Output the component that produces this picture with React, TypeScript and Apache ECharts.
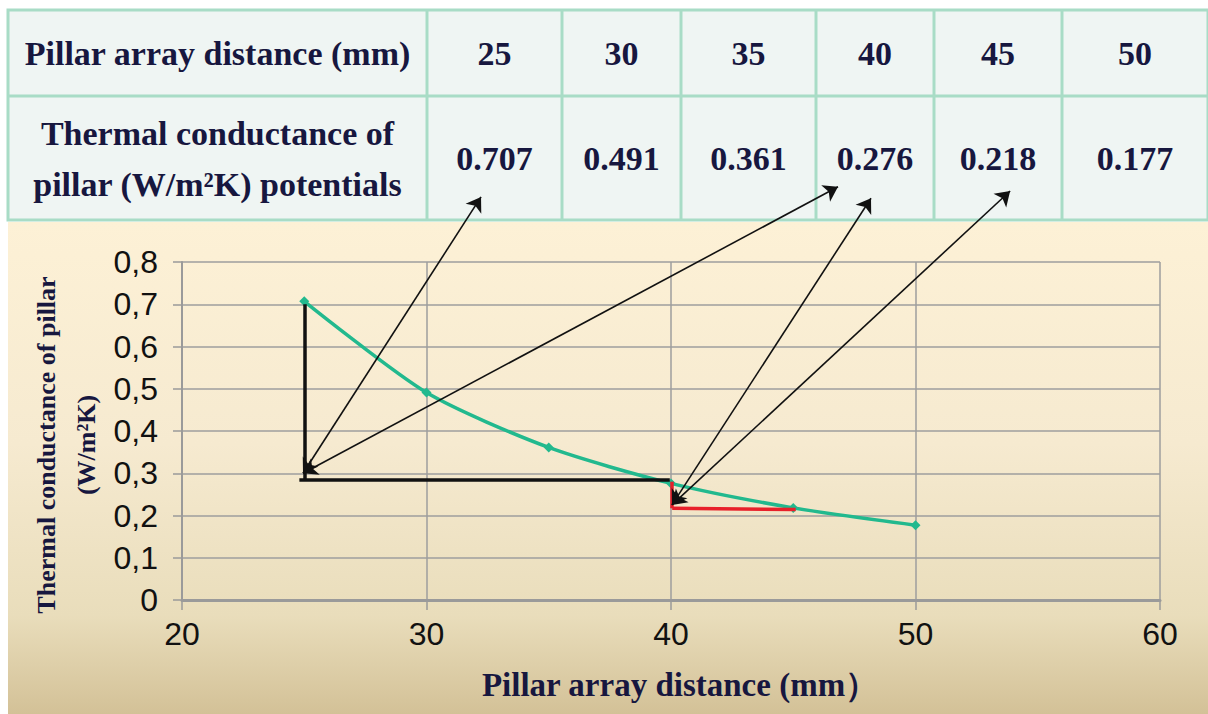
import React, { useEffect, useRef } from "react";
import * as echarts from "echarts";

// ---- data ----
const distances = [25, 30, 35, 40, 45, 50];
const conductance = [0.707, 0.491, 0.361, 0.276, 0.218, 0.177];
const tableHeader = "Pillar array distance (mm)";
const tableRowLabel = ["Thermal conductance of", "pillar (W/m\u00b2K) potentials"];
const xAxisName = "Pillar array distance (mm\uff09";
const yAxisName = ["Thermal conductance of pillar", "(W/m\u00b2K)"];

// annotation segments (data coordinates)
const blackGuides = [
  [[25, 0.7], [25, 0.285]],
  [[24.8, 0.285], [39.95, 0.285]],
];
const redGuides = [
  [[40.05, 0.28], [40.05, 0.217]],
  [[40.05, 0.217], [45.1, 0.214]],
];
const arrows = [
  [[24.95, 0.3], [32.23, 0.954]],
  [[24.95, 0.3], [46.83, 0.978]],
  [[40.04, 0.225], [48.18, 0.951]],
  [[40.04, 0.225], [53.87, 0.968]],
];

// table layout
const colEdges = [8, 427, 562, 681, 816, 934, 1062, 1208];
const rowEdges = [10, 96, 220];

const NAVY = "#17173f";
const SERIF = "Liberation Serif";
const SANS = "Liberation Sans";

export default function App() {
  const ref = useRef<HTMLDivElement>(null);
  useEffect(() => {
    if (!ref.current) return;
    const chart = echarts.init(ref.current, null, { renderer: "svg" });

    const graphics: any[] = [];
    graphics.push({
      type: "rect",
      shape: { x: colEdges[0], y: rowEdges[0], width: colEdges[colEdges.length - 1] - colEdges[0], height: rowEdges[2] - rowEdges[0] },
      style: { fill: "#eff5f3", stroke: "#a8dcc6", lineWidth: 3 },
    });
    graphics.push({
      type: "line",
      shape: { x1: colEdges[0], y1: rowEdges[1], x2: colEdges[colEdges.length - 1], y2: rowEdges[1] },
      style: { stroke: "#a8dcc6", lineWidth: 3 },
    });
    for (let i = 1; i < colEdges.length - 1; i++) {
      graphics.push({
        type: "line",
        shape: { x1: colEdges[i], y1: rowEdges[0], x2: colEdges[i], y2: rowEdges[2] },
        style: { stroke: "#a8dcc6", lineWidth: 3 },
      });
    }
    const tfont = { fontFamily: SERIF, fontWeight: "bold", fontSize: 34, fill: NAVY };
    const row1Y = (rowEdges[0] + rowEdges[1]) / 2;
    const row2Y = (rowEdges[1] + rowEdges[2]) / 2;
    graphics.push({
      type: "text",
      x: (colEdges[0] + colEdges[1]) / 2,
      y: row1Y,
      style: { ...tfont, text: tableHeader, align: "center", verticalAlign: "middle" },
    });
    graphics.push({
      type: "text",
      x: (colEdges[0] + colEdges[1]) / 2,
      y: row2Y - 25,
      style: { ...tfont, text: tableRowLabel[0], align: "center", verticalAlign: "middle" },
    });
    graphics.push({
      type: "text",
      x: (colEdges[0] + colEdges[1]) / 2,
      y: row2Y + 26,
      style: { ...tfont, text: tableRowLabel[1], align: "center", verticalAlign: "middle" },
    });
    distances.forEach((d, i) => {
      const cx = (colEdges[i + 1] + colEdges[i + 2]) / 2;
      graphics.push({
        type: "text",
        x: cx,
        y: row1Y,
        style: { ...tfont, text: String(d), align: "center", verticalAlign: "middle" },
      });
      graphics.push({
        type: "text",
        x: cx,
        y: row2Y,
        style: { ...tfont, text: conductance[i].toFixed(3), align: "center", verticalAlign: "middle" },
      });
    });
    graphics.push({
      type: "text",
      x: 680,
      y: 685,
      style: { text: xAxisName, fontFamily: SERIF, fontWeight: "bold", fontSize: 33, fill: NAVY, align: "center", verticalAlign: "middle" },
    });
    graphics.push({
      type: "text",
      x: 46,
      y: 445,
      rotation: Math.PI / 2,
      style: { text: yAxisName[0], fontFamily: SERIF, fontWeight: "bold", fontSize: 26, fill: NAVY, align: "center", verticalAlign: "middle" },
    });
    graphics.push({
      type: "text",
      x: 86,
      y: 445,
      rotation: Math.PI / 2,
      style: { text: yAxisName[1], fontFamily: SERIF, fontWeight: "bold", fontSize: 26, fill: NAVY, align: "center", verticalAlign: "middle" },
    });

    const mkLines = (segs: number[][][]) => segs.map((s) => ({ coords: s }));

    chart.setOption({
      animation: false,
      backgroundColor: "transparent",
      grid: { left: 182, right: 48, top: 262, bottom: 114, containLabel: false },
      xAxis: {
        type: "value",
        min: 20,
        max: 60,
        interval: 10,
        axisLine: { show: true, onZero: false, lineStyle: { color: "#9a9a9a", width: 3 } },
        axisTick: { show: true, length: 10, lineStyle: { color: "#9a9a9a", width: 1.5 } },
        axisLabel: { fontFamily: SANS, fontSize: 32, color: "#111", margin: 18 },
        splitLine: { show: true, lineStyle: { color: "#9e9e9e", width: 1.5 } },
      },
      yAxis: {
        type: "value",
        min: 0,
        max: 0.8,
        interval: 0.1,
        axisLine: { show: true, lineStyle: { color: "#9a9a9a", width: 2 } },
        axisTick: { show: true, length: 9, lineStyle: { color: "#9a9a9a", width: 1.5 } },
        axisLabel: {
          fontFamily: SANS,
          fontSize: 32,
          color: "#111",
          margin: 24,
          formatter: (v: number) => (v === 0 ? "0" : v.toFixed(1).replace(".", ",")),
        },
        splitLine: { show: true, lineStyle: { color: "#9e9e9e", width: 1.5 } },
      },
      graphic: graphics,
      series: [
        {
          type: "line",
          data: distances.map((d, i) => [d, conductance[i]]),
          smooth: 0.25,
          symbol: "diamond",
          symbolSize: 10,
          itemStyle: { color: "#22b98e" },
          lineStyle: { color: "#22b98e", width: 3.5 },
          z: 3,
        },
        {
          type: "lines",
          coordinateSystem: "cartesian2d",
          clip: false,
          symbol: "none",
          lineStyle: { color: "#111", width: 3.5, opacity: 1 },
          data: mkLines(blackGuides),
          z: 4,
        },
        {
          type: "lines",
          coordinateSystem: "cartesian2d",
          clip: false,
          symbol: "none",
          lineStyle: { color: "#e8202a", width: 3.5, opacity: 1 },
          data: mkLines(redGuides),
          z: 4,
        },
        {
          type: "lines",
          coordinateSystem: "cartesian2d",
          clip: false,
          symbol: ["arrow", "arrow"],
          symbolSize: 14,
          itemStyle: { color: "#111" },
          lineStyle: { color: "#111", width: 1.6, opacity: 1 },
          data: mkLines(arrows),
          z: 5,
        },
      ],
    });
    return () => chart.dispose();
  }, []);

  return (
    <div style={{ position: "absolute", left: 0, top: 0, width: 1208, height: 714, background: "#fff" }}>
      <div
        style={{
          position: "absolute",
          left: 8,
          top: 222,
          width: 1200,
          height: 492,
          background: "linear-gradient(to bottom, #fdf1d6 0%, #f6ead0 45%, #e9ddbb 80%, #d3c197 100%)",
        }}
      />
      <div ref={ref} style={{ position: "absolute", left: 0, top: 0, width: 1208, height: 714 }} />
    </div>
  );
}
